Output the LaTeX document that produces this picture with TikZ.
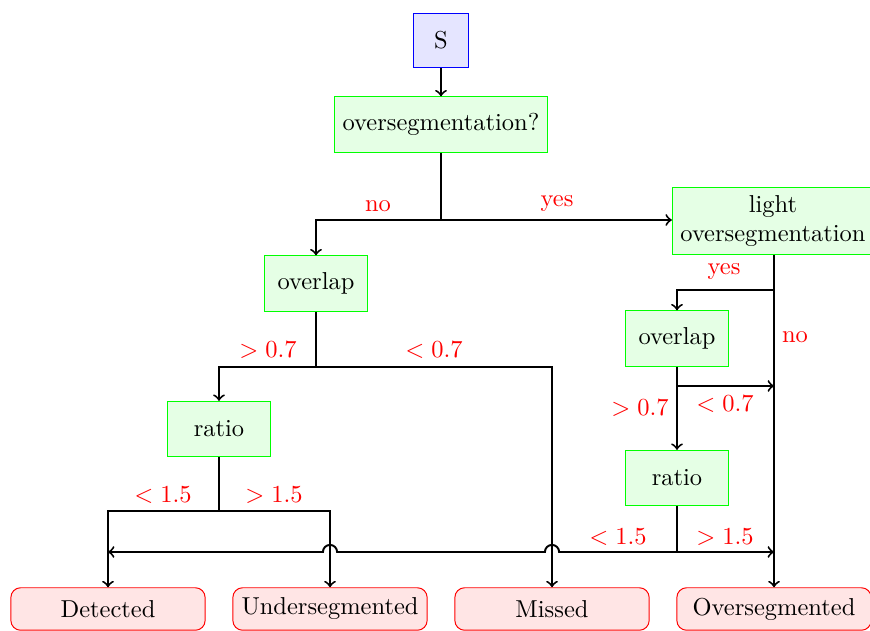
\documentclass[tikz,border=0pt]{standalone}
\usetikzlibrary{calc}
\begin{document}
\begin{tikzpicture}[x=0.01436cm,y=-0.01436cm,
  startbox/.style={draw=blue,fill=blue!10,minimum size=0.785cm},
  greenbox/.style={draw=green,fill=green!10,minimum width=1.49cm,minimum height=0.795cm},
  endbox/.style={draw=red,fill=red!10,rounded corners,minimum width=2.79cm,minimum height=0.61cm},
  lbl/.style={text=red},
  conn/.style={thick},
  arr/.style={thick,->}]
\useasboundingbox (0,0) rectangle (870,631);
\node[startbox] (s) at (441,40.5) {S};
\node[greenbox] (ov) at (441,124.5) {oversegmentation?};
\node[greenbox,align=center] (light) at (773,221) {light\\oversegmentation};
\node[greenbox] (ol1) at (316,283.5) {overlap};
\node[greenbox] (r1) at (219,429) {ratio};
\node[greenbox] (ol2) at (677,338.5) {overlap};
\node[greenbox] (r2) at (677,478) {ratio};
\node[endbox] (det) at (108,609) {Detected};
\node[endbox] (und) at (330,609) {Undersegmented};
\node[endbox] (mis) at (552,609) {Missed};
\node[endbox] (ovs) at (774,609) {Oversegmented};
% junctions
\coordinate (j1) at (441,220);
\coordinate (j2) at (774,290);
\coordinate (j3) at (316,367);
\coordinate (j4) at (219,511);
\coordinate (j5) at (677,386);
\coordinate (j6) at (677,552);
% connectors
\draw[arr] (s) -- (ov);
\draw[conn] (ov.south) -- (j1);
\draw[arr] (j1) -| (ol1.north);
\draw[arr] (j1) -- (j1 -| light.west);
\draw[arr] (light.south -| ovs.north) -- (ovs.north);
\draw[arr] (j2) -| (ol2.north);
\draw[conn] (ol1.south) -- (j3);
\draw[arr] (j3) -| (r1.north);
\draw[arr] (j3) -| (mis.north);
\draw[conn] (r1.south) -- (j4);
\draw[arr] (j4) -| (det.north);
\draw[arr] (j4) -| (und.north);
\draw[arr] (ol2) -- (r2);
\draw[arr] (j5) -- (j5 -| ovs.north);
\draw[conn] (r2.south) -- (j6);
\draw[arr] (j6) -- (j6 -| ovs.north);
\draw[arr] (j6) -- ($(j6 -| mis.north)+(2.9pt,0)$) arc[start angle=0,end angle=180,radius=2.9pt]
  -- ($(j6 -| und.north)+(2.9pt,0)$) arc[start angle=0,end angle=180,radius=2.9pt]
  -- (j6 -| det.north);
% labels
\node[lbl] (lno1) at (378,206) {no};
\node[lbl] (lyes1) at (557,204) {yes};
\node[lbl] (lyes2) at (724,272) {yes};
\node[lbl] (lno2) at (795,337) {no};
\node[lbl] (la) at (268,350) {$>0.7$};
\node[lbl] (lb) at (434,350) {$<0.7$};
\node[lbl] (lc) at (163,495) {$<1.5$};
\node[lbl] (ld) at (274,495) {$>1.5$};
\node[lbl] (le) at (640,408) {$>0.7$};
\node[lbl] (lf) at (725,404) {$<0.7$};
\node[lbl] (lg) at (618,537) {$<1.5$};
\node[lbl] (lh) at (725,537) {$>1.5$};
\end{tikzpicture}
\end{document}
